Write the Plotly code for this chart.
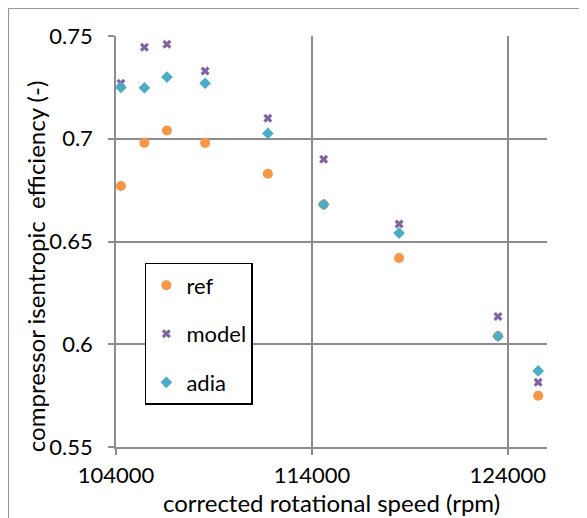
import plotly.graph_objects as go

speed = [104250, 105450, 106600, 108550, 111750, 114600, 118450, 123500, 125550]
ref = [0.677, 0.698, 0.704, 0.698, 0.683, 0.668, 0.642, 0.604, 0.575]
model = [0.727, 0.7445, 0.746, 0.733, 0.710, 0.690, 0.6585, 0.6135, 0.5815]
adia = [0.725, 0.7248, 0.730, 0.727, 0.7026, 0.668, 0.6541, 0.6039, 0.587]

FONT = "Lato"
GRID = "#8c8c8c"

fig = go.Figure()
fig.add_trace(go.Scatter(x=speed, y=ref, mode="markers", name="ref", legendgroup="a",
                         marker=dict(symbol="circle", size=10, color="#F79646")))
fig.add_trace(go.Scatter(x=speed, y=model, mode="markers", name="model", legendgroup="b",
                         marker=dict(symbol="x", size=8, color="#8064A2")))
fig.add_trace(go.Scatter(x=speed, y=adia, mode="markers", name="adia", legendgroup="c",
                         marker=dict(symbol="diamond", size=9, color="#4BACC6")))

fig.update_layout(
    width=579, height=510,
    margin=dict(l=108, r=40, t=28, b=71),
    paper_bgcolor="white", plot_bgcolor="white",
    font=dict(family=FONT, size=22, color="black"),
    showlegend=True,
    legend=dict(x=0.067, y=0.448, xanchor="left", yanchor="top",
                bordercolor="black", borderwidth=1.5, bgcolor="white",
                font=dict(size=22), tracegroupgap=17,
                itemsizing="trace"),
    xaxis=dict(range=[104000, 126000], tick0=104000, dtick=10000,
               showgrid=True, gridcolor=GRID, gridwidth=1.5,
               showline=True, linecolor=GRID, linewidth=1.5,
               ticks="outside", ticklen=6, tickcolor=GRID, tickwidth=1.5,
               zeroline=False, tickformat="d", ticklabelstandoff=2,
               title=dict(text="corrected rotational speed (rpm)", font=dict(size=24), standoff=2)),
    yaxis=dict(range=[0.55, 0.75], dtick=0.05, tick0=0.55,
               showgrid=True, gridcolor=GRID, gridwidth=1.5,
               showline=True, linecolor=GRID, linewidth=1.5,
               ticks="outside", ticklen=6, tickcolor=GRID, tickwidth=1.5,
               zeroline=False, ticklabelstandoff=11),
    annotations=[dict(text="compressor isentropic  efficiency (-)", xref="paper", yref="paper",
                      x=-0.188, y=0.44, xanchor="center", yanchor="middle",
                      textangle=-90, showarrow=False, font=dict(size=24))],
    shapes=[dict(type="rect", xref="paper", yref="paper",
                 x0=-0.2494, x1=1.3, y0=-0.3, y1=1.0669,
                 line=dict(color="#999999", width=1.2), layer="below")],
)

fig.write_html("out.html")
